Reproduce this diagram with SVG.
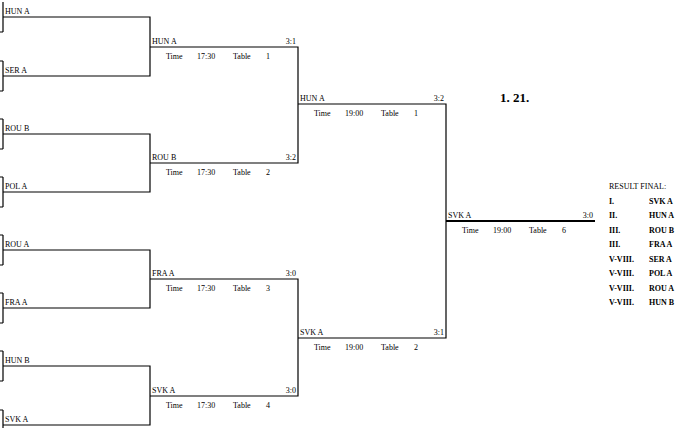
<svg xmlns="http://www.w3.org/2000/svg" width="679" height="428" viewBox="0 0 679 428">
<style>
text{font-family:"Liberation Serif","Times New Roman",serif;font-size:8px;fill:#000}
.s{text-anchor:end}
.b{font-weight:bold}
.ln{fill:none;stroke:#000;stroke-width:1.2}
.fin{fill:none;stroke:#000;stroke-width:2.2}
</style>
<rect width="679" height="428" fill="#fff"/>
<g id="connectors">
<!-- entry brackets -->
<path class="ln" d="M3,2V32M0,32H3 M3,61V91M0,61H3M0,91H3 M3,119V149M0,119H3M0,149H3 M3,177V207M0,177H3M0,207H3 M3,235V265M0,235H3M0,265H3 M3,293V323M0,293H3M0,323H3 M3,351V381M0,351H3M0,381H3 M3,410V428M0,410H3"/>
<!-- round 1 -->
<path class="ln" d="M3,17H150V76H3 M3,134H150V192H3 M3,250H150V308H3 M3,366H150V425H3"/>
<!-- quarter lines -->
<path class="ln" d="M150,47H298V163H150 M150,279H298V396H150"/>
<!-- semis -->
<path class="ln" d="M298,104H446V338H298"/>
<path class="fin" d="M446,221H595"/>
</g>
<g id="e1"><text x="5" y="14">HUN A</text></g>
<g id="e2"><text x="5" y="73">SER A</text></g>
<g id="e3"><text x="5" y="131">ROU B</text></g>
<g id="e4"><text x="5" y="189">POL A</text></g>
<g id="e5"><text x="5" y="247">ROU A</text></g>
<g id="e6"><text x="5" y="305">FRA A</text></g>
<g id="e7"><text x="5" y="363">HUN B</text></g>
<g id="e8"><text x="5" y="422">SVK A</text></g>
<g id="m1"><text x="152" y="44">HUN A</text><text class="s" x="296" y="44">3:1</text><text x="166" y="59">Time</text><text x="197" y="59">17:30</text><text x="233" y="59">Table</text><text x="266" y="59">1</text></g>
<g id="m2"><text x="152" y="160">ROU B</text><text class="s" x="296" y="160">3:2</text><text x="166" y="175">Time</text><text x="197" y="175">17:30</text><text x="233" y="175">Table</text><text x="266" y="175">2</text></g>
<g id="m3"><text x="152" y="276">FRA A</text><text class="s" x="296" y="276">3:0</text><text x="166" y="291">Time</text><text x="197" y="291">17:30</text><text x="233" y="291">Table</text><text x="266" y="291">3</text></g>
<g id="m4"><text x="152" y="393">SVK A</text><text class="s" x="296" y="393">3:0</text><text x="166" y="408">Time</text><text x="197" y="408">17:30</text><text x="233" y="408">Table</text><text x="266" y="408">4</text></g>
<g id="s1"><text x="300" y="101">HUN A</text><text class="s" x="444" y="101">3:2</text><text x="314" y="116">Time</text><text x="345" y="116">19:00</text><text x="381" y="116">Table</text><text x="414" y="116">1</text></g>
<g id="s2"><text x="300" y="335">SVK A</text><text class="s" x="444" y="335">3:1</text><text x="314" y="350">Time</text><text x="345" y="350">19:00</text><text x="381" y="350">Table</text><text x="414" y="350">2</text></g>
<g id="f"><text x="448" y="218">SVK A</text><text class="s" x="593" y="218">3:0</text><text x="462" y="233">Time</text><text x="493" y="233">19:00</text><text x="529" y="233">Table</text><text x="562" y="233">6</text></g>
<g id="title"><text class="b" x="500" y="102" style="font-size:13px">1. 21.</text></g>
<g id="results">
<text x="609" y="189">RESULT FINAL:</text>
<g class="b">
<text class="b" x="609" y="204">I.</text><text class="b" x="649" y="204">SVK A</text>
<text class="b" x="609" y="218">II.</text><text class="b" x="649" y="218">HUN A</text>
<text class="b" x="609" y="233">III.</text><text class="b" x="649" y="233">ROU B</text>
<text class="b" x="609" y="247">III.</text><text class="b" x="649" y="247">FRA A</text>
<text class="b" x="609" y="262">V-VIII.</text><text class="b" x="649" y="262">SER A</text>
<text class="b" x="609" y="276">V-VIII.</text><text class="b" x="649" y="276">POL A</text>
<text class="b" x="609" y="291">V-VIII.</text><text class="b" x="649" y="291">ROU A</text>
<text class="b" x="609" y="305">V-VIII.</text><text class="b" x="649" y="305">HUN B</text>
</g>
</g>
</svg>
